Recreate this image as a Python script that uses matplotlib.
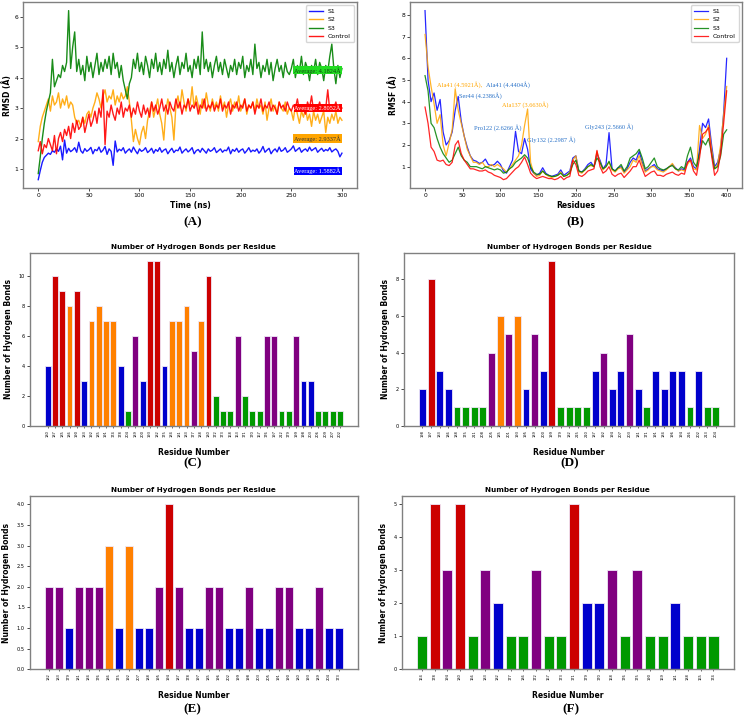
import numpy as np
import matplotlib
matplotlib.use("Agg")
import matplotlib.pyplot as plt

# ---------------- Panel A: RMSD ----------------
rmsd_s1 = [0.65,0.95,1.22,1.38,1.45,1.52,1.48,1.6,1.55,1.66,1.58,1.75,1.3,1.95,1.52,1.68,1.57,1.62,1.7,1.55,
           1.88,1.6,1.52,1.67,1.58,1.63,1.71,1.5,1.64,1.6,1.72,1.55,1.62,1.74,1.48,1.66,1.58,1.12,1.92,1.56,
           1.65,1.6,1.7,1.52,1.6,1.66,1.55,1.72,1.6,1.5,1.66,1.58,1.62,1.7,1.54,1.6,1.68,1.52,1.64,1.58,
           1.7,1.55,1.62,1.66,1.5,1.6,1.68,1.54,1.62,1.6,1.72,1.52,1.6,1.66,1.56,1.62,1.7,1.5,1.6,1.64,
           1.55,1.68,1.6,1.52,1.66,1.58,1.62,1.7,1.54,1.6,1.66,1.55,1.62,1.6,1.72,1.5,1.64,1.58,1.68,1.55,
           1.62,1.66,1.52,1.6,1.7,1.56,1.62,1.58,1.66,1.52,1.6,1.74,1.55,1.62,1.68,1.5,1.6,1.66,1.56,1.72,
           1.58,1.62,1.7,1.55,1.6,1.66,1.76,1.58,1.64,1.7,1.55,1.62,1.66,1.58,1.72,1.6,1.65,1.7,1.55,1.62,
           1.68,1.58,1.64,1.6,1.7,1.56,1.62,1.66,1.58,1.4,1.52]
rmsd_s2 = [1.9,2.4,2.7,2.9,3.1,3.3,2.9,3.4,3.1,3.2,3.5,3.0,3.3,3.1,3.4,3.0,3.2,3.1,2.7,2.5,
           2.6,2.4,2.7,2.5,2.8,2.9,2.7,3.0,3.2,3.5,3.3,3.0,3.4,3.6,3.2,3.4,3.3,3.6,3.1,3.4,
           3.2,3.5,3.3,3.4,3.7,3.2,2.6,1.9,2.3,2.0,1.8,2.2,2.4,2.0,2.6,2.9,3.2,2.7,3.0,3.3,
           2.8,2.5,1.95,2.9,3.3,3.0,2.7,1.95,3.1,3.4,3.0,3.6,3.2,2.9,3.3,3.1,3.7,3.0,3.4,3.1,
           2.8,3.3,3.0,3.5,3.1,2.9,3.3,3.0,3.2,2.9,3.4,3.0,3.2,2.7,3.1,3.3,2.9,3.2,3.0,3.4,
           2.9,3.1,3.3,2.8,3.1,3.0,3.2,2.9,3.3,3.0,3.1,2.8,3.2,2.6,3.0,3.3,2.9,3.1,2.8,3.2,
           3.0,2.9,3.2,2.8,3.0,2.9,2.6,3.1,2.8,2.5,2.9,2.7,3.0,2.6,2.8,2.4,2.9,2.6,2.8,2.5,
           2.7,2.9,2.2,2.7,2.5,2.8,2.6,2.9,2.5,2.7,2.6]
rmsd_s3 = [0.85,1.4,2.0,2.5,2.9,3.2,3.5,4.6,3.7,3.9,4.1,4.0,4.4,4.2,4.5,6.2,4.3,5.0,5.5,4.2,
           4.6,4.1,4.4,3.9,4.7,4.2,4.5,4.0,4.4,4.8,4.1,4.5,4.2,4.6,4.3,4.7,4.1,4.8,4.3,4.5,
           4.0,4.4,3.9,3.6,3.3,3.8,4.0,4.6,4.3,4.8,4.2,4.5,4.1,4.7,4.4,4.0,4.6,4.3,4.8,4.2,
           4.5,4.1,4.6,4.3,4.9,4.2,4.5,4.0,4.4,4.7,4.1,4.5,4.3,4.8,4.2,4.4,4.0,4.6,4.3,4.7,
           4.1,5.5,4.3,4.6,4.2,4.5,4.0,4.4,4.7,4.2,4.5,4.1,4.6,4.3,4.0,4.4,4.2,4.6,4.1,4.5,
           4.3,4.7,4.0,4.4,4.2,4.6,4.1,5.1,4.3,4.5,4.0,4.4,4.2,4.6,4.1,4.5,3.9,4.3,4.6,4.2,
           4.4,4.0,4.5,4.2,4.1,4.3,4.6,4.0,4.4,4.2,4.7,4.1,4.5,4.3,3.9,4.4,4.2,4.6,4.1,4.5,
           4.3,3.9,4.4,4.2,4.7,5.1,4.3,3.8,4.4,4.0,4.3]
rmsd_ctrl = [1.6,1.9,1.5,1.8,1.7,2.0,1.8,1.6,2.1,1.5,2.0,2.2,1.9,2.3,2.1,2.4,2.0,2.5,2.2,2.6,
             2.3,2.4,2.7,2.2,2.5,2.8,2.4,2.6,2.9,2.5,3.0,2.7,3.6,1.8,2.9,2.7,3.1,2.8,2.6,3.0,
             2.8,3.2,2.7,3.0,2.9,3.1,2.7,3.0,2.8,3.2,2.9,2.7,3.1,2.8,3.0,2.7,3.2,2.9,3.1,2.8,
             3.0,3.3,2.9,3.1,2.8,3.2,3.0,2.9,3.3,3.0,3.2,2.8,3.1,3.0,3.3,2.9,3.1,3.0,3.2,2.8,
             3.1,3.0,3.3,2.9,3.1,3.0,3.2,2.9,3.1,3.0,3.3,2.9,3.1,3.0,3.2,2.8,3.1,3.0,3.2,2.9,
             3.1,3.0,3.3,2.9,3.1,3.0,3.2,2.8,3.1,3.0,3.3,2.9,3.1,3.0,3.2,2.9,3.1,3.0,2.8,3.2,
             3.0,3.1,2.9,3.2,3.0,2.9,3.1,3.0,3.3,2.9,3.1,3.0,2.8,3.2,3.0,3.4,2.9,3.1,3.0,3.2,
             2.9,3.1,3.0,3.6,2.9,3.1,3.0,3.2,2.9,3.1,3.0]
rmsd_avgs = ["1.5882", "2.9337", "4.1824", "2.8052"]
series_names = ["S1", "S2", "S3", "Control"]

# ---------------- Panel B: RMSF ----------------
rmsf_s1 = [8.2,5.0,4.0,4.4,3.6,4.1,2.6,2.0,2.2,2.6,3.6,4.24,3.1,2.4,1.9,1.5,1.3,1.25,1.15,1.2,
           1.35,1.1,1.05,1.1,1.25,1.1,0.8,0.7,1.0,1.3,2.63,1.7,1.6,2.3,1.8,0.9,0.7,0.6,0.7,0.95,
           0.7,0.6,0.55,0.6,0.65,0.85,0.6,0.7,0.8,1.4,1.5,0.8,0.75,0.9,1.1,1.2,1.0,1.6,1.3,0.9,
           1.1,2.57,0.9,0.8,0.95,1.0,0.75,0.9,1.2,1.4,1.3,1.7,1.2,0.8,0.9,1.0,1.1,0.9,0.85,0.8,
           0.9,1.0,1.1,0.95,0.8,0.9,0.85,1.2,1.4,1.0,0.9,1.8,3.0,2.8,3.2,2.0,1.0,1.2,1.8,3.5,6.0]
rmsf_s2 = [7.1,5.6,4.7,3.9,3.0,3.4,2.0,1.5,2.1,2.7,4.59,3.6,3.0,2.4,1.8,1.5,1.2,1.2,1.1,1.2,
           1.0,1.0,1.1,1.0,1.1,1.0,0.9,0.75,0.9,1.1,1.3,1.5,2.0,2.9,3.66,1.2,0.7,0.55,0.6,0.8,
           0.65,0.55,0.5,0.55,0.6,0.75,0.55,0.6,0.75,1.3,1.5,0.75,0.7,0.85,1.0,1.05,1.0,1.7,1.2,0.85,
           1.0,1.2,0.85,0.75,0.9,0.95,0.7,0.85,1.0,1.3,1.2,1.5,1.1,0.75,0.85,1.0,1.0,0.85,0.8,0.75,
           0.85,1.0,1.15,0.9,0.8,0.85,0.8,1.1,1.3,0.9,0.85,2.9,2.3,2.5,2.9,1.8,0.9,1.1,2.0,3.4,4.7]
rmsf_s3 = [5.2,4.5,3.0,2.8,2.3,1.9,1.6,1.4,1.2,1.3,1.6,1.9,1.5,1.3,1.2,1.0,1.0,1.0,0.95,0.9,
           1.0,0.95,0.9,0.85,0.9,0.85,0.7,0.75,0.9,1.0,1.2,1.3,1.4,1.55,1.4,1.0,0.75,0.65,0.65,0.8,
           0.65,0.6,0.55,0.55,0.6,0.7,0.55,0.6,0.7,1.1,1.3,0.8,0.75,0.85,1.0,1.1,1.0,1.4,1.2,0.9,
           1.0,1.25,0.9,0.8,0.95,1.1,0.8,1.0,1.4,1.5,1.6,1.8,1.4,0.9,1.0,1.2,1.4,1.0,0.9,0.85,
           0.9,1.0,1.05,0.9,0.85,1.0,0.9,1.5,1.9,1.2,1.0,1.6,2.2,2.0,2.3,1.6,0.9,1.0,1.5,2.5,2.7]
rmsf_ctrl = [3.75,3.0,1.9,1.7,1.3,1.25,1.3,1.1,1.05,1.2,2.0,2.2,1.6,1.3,1.1,0.9,0.9,0.85,0.8,0.8,
             0.85,0.75,0.7,0.6,0.55,0.5,0.4,0.45,0.6,0.75,0.9,1.0,1.2,1.45,1.1,0.7,0.55,0.45,0.5,0.55,
             0.5,0.45,0.45,0.4,0.45,0.55,0.4,0.5,0.55,1.3,1.1,0.6,0.55,0.65,0.8,0.85,0.9,1.75,1.0,0.7,
             0.8,1.0,0.65,0.55,0.65,0.7,0.5,0.65,0.8,1.0,1.0,1.3,0.9,0.55,0.65,0.75,0.8,0.6,0.6,0.55,
             0.65,0.7,0.75,0.65,0.6,0.7,0.65,1.2,1.3,0.8,0.6,1.4,2.5,2.6,2.8,1.5,0.6,0.8,1.6,3.0,4.5]
rmsf_notes = [("Ala41 (4.5921Å),", 16, 4.77, "orange"),
              ("Ala41 (4.4404Å)", 81, 4.77, "#2a72c8"),
              ("Ser44 (4.2386Å)", 45, 4.30, "#2a72c8"),
              ("Ala137 (3.6630Å)", 102, 3.85, "orange"),
              ("Pro122 (2.6266 Å)", 65, 2.80, "#2a72c8"),
              ("Gly132 (2.2987 Å)", 135, 2.23, "#2a72c8"),
              ("Gly243 (2.5660 Å)", 212, 2.85, "#2a72c8")]

# ---------------- Panels C-F: hydrogen bonds ----------------
c_res = ["180","187","185","186","190","183","192","185","191","174","178","204","189","200","193","182",
         "175","184","181","183","177","188","180","172","173","168","163","171","170","167","176","197",
         "212","179","199","198","203","206","209","207","202"]
c_hb = [4,10,9,8,9,3,7,8,7,7,4,1,6,3,11,11,4,7,7,8,5,7,10,2,1,1,6,2,1,1,6,6,1,1,6,3,3,1,1,1,1]
d_res = ["198","197","183","186","188","175","211","208","205","185","201","193","195","189","200","199",
         "179","182","215","210","187","192","194","207","203","181","171","191","184","196","194","216",
         "202","213","204"]
d_hb = [2,8,3,2,1,1,1,1,4,6,5,6,2,5,3,9,1,1,1,1,3,4,2,3,5,2,1,3,2,3,3,1,3,1,1]
e_res = ["182","183","179","181","184","176","186","175","192","207","188","195","194","187","178","197",
         "185","196","202","199","198","203","205","191","190","180","193","189","204","173"]
e_hb = [2,2,1,2,2,2,3,1,3,1,1,2,4,2,1,1,2,2,1,1,2,1,1,2,2,1,1,2,1,1]
f_res = ["164","178","194","180","166","183","182","177","186","172","167","173","171","179","170","168",
         "176","175","190","169","181","188","165","174"]
f_hb = [1,5,3,5,1,3,2,1,1,3,1,1,5,2,2,3,1,3,1,1,2,1,1,1]

line_colors = ["blue", "orange", "green", "red"]
avg_box = [("blue", "white"), ("orange", "#333333"), ("#22dd22", "#114411"), ("red", "white")]
bar_palette = ["#009900", "#0000cc", "#800080", "#ff8000", "#cc0000"]
spine_col = "#808080"


def color_for(v, vmax):
    r = v / vmax
    if r <= 0.2:
        return bar_palette[0]
    if r <= 0.4:
        return bar_palette[1]
    if r <= 0.6:
        return bar_palette[2]
    if r <= 0.8:
        return bar_palette[3]
    return bar_palette[4]


def style_spines(ax, lw=1.0):
    for s in ax.spines.values():
        s.set_color(spine_col)
        s.set_linewidth(lw)


fig = plt.figure(figsize=(7.44, 7.18), dpi=100)
serif = "Liberation Serif"

# ---- A ----
axA = fig.add_axes([0.031, 0.738, 0.449, 0.259])
for ys, col, name in zip([rmsd_s1, rmsd_s2, rmsd_s3, rmsd_ctrl], line_colors, series_names):
    t = np.linspace(0, 300, len(ys))
    axA.plot(t, ys, color=col, lw=1.0, alpha=0.9, label=name)
avg_y = [0.93, 2.0, 4.24, 3.01]
for val, y, (bg, fg) in zip(rmsd_avgs, avg_y, avg_box):
    axA.text(299, y, f"Average: {val}Å", ha="right", va="center", fontsize=4.6,
             family=serif, color=fg, bbox=dict(facecolor=bg, edgecolor="none", pad=0.6))
axA.set_xlabel("Time (ns)", fontsize=5.5, fontweight="bold", labelpad=2)
axA.set_ylabel("RMSD (Å)", fontsize=5.5, fontweight="bold", labelpad=2)
axA.tick_params(labelsize=4.3, length=2, width=0.5, pad=1.5)
axA.legend(loc="upper right", fontsize=4.5, frameon=True, handlelength=2.2, borderpad=0.5,
           labelspacing=0.5)
style_spines(axA)

# ---- B ----
axB = fig.add_axes([0.551, 0.738, 0.446, 0.259])
for ys, col, name in zip([rmsf_s1, rmsf_s2, rmsf_s3, rmsf_ctrl], line_colors, series_names):
    r = np.linspace(0, 400, len(ys))
    axB.plot(r, ys, color=col, lw=0.9, alpha=0.85, label=name)
for txt, x, y, col in rmsf_notes:
    axB.text(x, y, txt, fontsize=4.6, family=serif, color=col, ha="left", va="center")
axB.set_xlabel("Residues", fontsize=5.5, fontweight="bold", labelpad=2)
axB.set_ylabel("RMSF (Å)", fontsize=5.5, fontweight="bold", labelpad=2)
axB.tick_params(labelsize=4.3, length=2, width=0.5, pad=1.5)
axB.legend(loc="upper right", fontsize=4.5, frameon=True, handlelength=2.2, borderpad=0.5,
           labelspacing=0.5)
style_spines(axB)


def hb_panel(rect, labels, vals):
    ax = fig.add_axes(rect)
    vmax = max(vals)
    pos = np.arange(len(vals))
    ax.bar(pos, vals, width=0.8, color=[color_for(v, vmax) for v in vals],
           edgecolor="#f0e8f8", linewidth=0.6)
    ax.set_xticks(pos)
    ax.set_xticklabels(labels, rotation=90, fontsize=2.6)
    ax.tick_params(axis="y", labelsize=3.6, length=2, width=0.5, pad=1.5)
    ax.tick_params(axis="x", length=1.5, width=0.4, pad=1.5)
    ax.set_title("Number of Hydrogen Bonds per Residue", fontsize=5.2, fontweight="bold", pad=3)
    ax.set_xlabel("Residue Number", fontsize=5.5, fontweight="bold", labelpad=8)
    ax.set_ylabel("Number of Hydrogen Bonds", fontsize=5.5, fontweight="bold", labelpad=4)
    style_spines(ax, 1.0)
    return ax

hb_panel([0.040, 0.407, 0.441, 0.241], c_res, c_hb)
hb_panel([0.543, 0.407, 0.444, 0.241], d_res, d_hb)
hb_panel([0.040, 0.068, 0.441, 0.241], e_res, e_hb)
hb_panel([0.540, 0.068, 0.446, 0.241], f_res, f_hb)

for lab, x, y in [("(A)", 0.259, 0.691), ("(B)", 0.773, 0.691), ("(C)", 0.259, 0.355),
                  ("(D)", 0.766, 0.355), ("(E)", 0.259, 0.012), ("(F)", 0.768, 0.012)]:
    fig.text(x, y, lab, ha="center", va="center", fontsize=9.5, fontweight="bold", family=serif)

fig.savefig("out.png", dpi=100)
